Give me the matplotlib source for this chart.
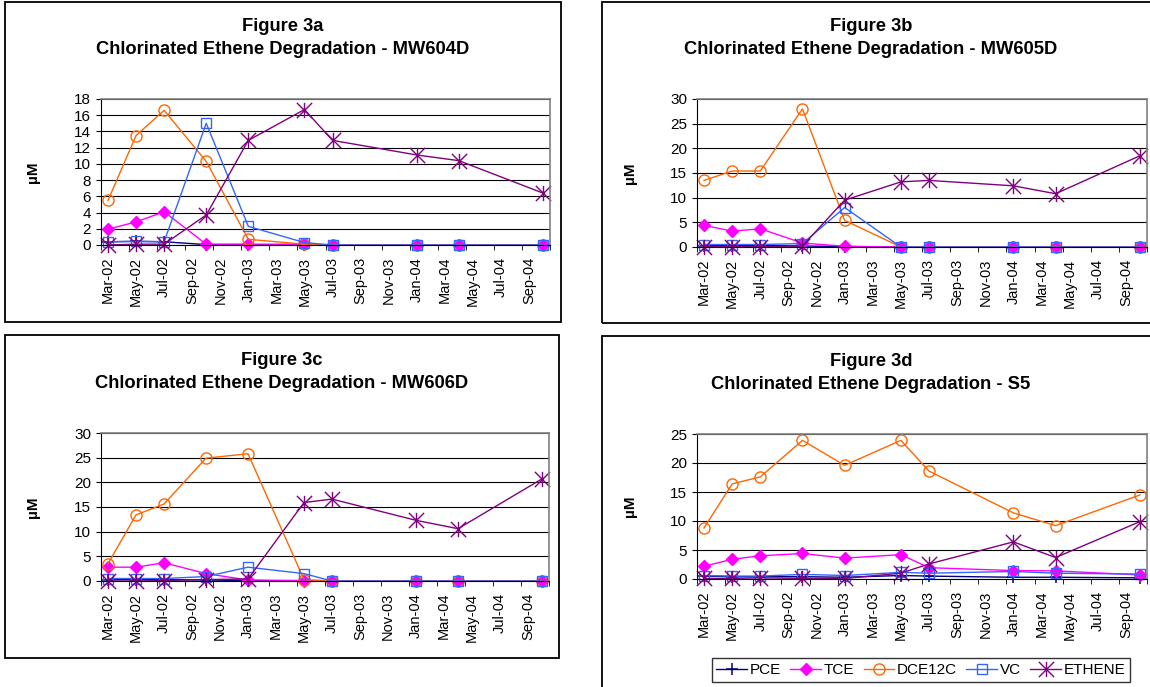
import matplotlib
matplotlib.use("Agg")
import matplotlib.pyplot as plt
import pandas as pd
from matplotlib.path import Path
from matplotlib.patches import Rectangle

plt.rcParams['font.family'] = ['Liberation Sans', 'DejaVu Sans']

# sampling dates and axis labels
sample_dates = ["Mar-02", "May-02", "Jul-02", "Oct-02", "Jan-03", "May-03",
                "Jul-03", "Jan-04", "Apr-04", "Oct-04"]
tick_labels = ["Mar-02", "May-02", "Jul-02", "Sep-02", "Nov-02", "Jan-03",
               "Mar-03", "May-03", "Jul-03", "Sep-03", "Nov-03", "Jan-04",
               "Mar-04", "May-04", "Jul-04", "Sep-04"]
series_names = ["PCE", "TCE", "DCE12C", "VC", "ETHENE"]

# Figure 3a - MW604D
a_pce = [0.4, 0.45, 0.4, 0.05, 0.05, 0, 0, 0, 0, 0]
a_tce = [1.95, 2.85, 4.1, 0.1, 0.1, 0.1, 0, 0, 0, 0]
a_dce = [5.5, 13.5, 16.6, 10.3, 0.7, 0.1, 0, 0, 0, 0]
a_vc = [0.4, 0.45, 0.4, 15.0, 2.3, 0.3, 0, 0, 0, 0]
a_eth = [0.0, 0.1, 0.1, 3.7, 12.9, 16.7, 12.9, 11.1, 10.4, 6.4]

# Figure 3b - MW605D
b_pce = [0.3, 0.3, 0.3, 0.2, 0.1, 0, 0, 0, 0, 0]
b_tce = [4.4, 3.2, 3.7, 0.8, 0.15, 0, 0, 0, 0, 0]
b_dce = [13.5, 15.4, 15.4, 28.0, 5.4, 0, 0, 0, 0, 0]
b_vc = [0.5, 0.5, 0.5, 0.7, 8.0, 0, 0, 0, 0, 0]
b_eth = [0.1, 0.1, 0.1, 0.2, 9.5, 13.2, 13.5, 12.4, 10.8, 18.5]

# Figure 3c - MW606D
c_pce = [0.3, 0.3, 0.3, 0.2, 0.1, 0, 0, 0, 0, 0]
c_tce = [2.8, 2.8, 3.7, 1.5, 0.2, 0.1, 0, 0, 0, 0]
c_dce = [3.5, 13.4, 15.6, 24.9, 25.8, 0.3, 0, 0, 0, 0]
c_vc = [0.5, 0.5, 0.5, 0.9, 2.8, 1.5, 0, 0, 0, 0]
c_eth = [0.0, 0.0, 0.1, 0.3, 0.4, 15.9, 16.6, 12.3, 10.6, 20.7]

# Figure 3d - S5
d_pce = [0.5, 0.4, 0.4, 0.4, 0.3, 0.6, 0.5, 0.3, 0.3, 0.2]
d_tce = [2.2, 3.4, 4.0, 4.4, 3.6, 4.2, 1.95, 1.45, 1.4, 0.7]
d_dce = [8.8, 16.4, 17.6, 23.9, 19.6, 23.9, 18.6, 11.4, 9.2, 14.5]
d_vc = [0.6, 0.5, 0.5, 0.8, 0.6, 1.15, 1.0, 1.3, 1.0, 0.85]
d_eth = [0.1, 0.1, 0.2, 0.1, 0.1, 1.0, 2.6, 6.4, 3.7, 9.9]

# month index counted from Mar-02
d = pd.to_datetime(sample_dates, format="%b-%y")
x = [(t.year - 2002) * 12 + t.month - 3 for t in d]

star = Path([(0, -1), (0, 1), (-1, -1), (1, 1), (-1, 1), (1, -1)],
            [Path.MOVETO, Path.LINETO] * 3)
styles = {
    "PCE": dict(color="#000080", marker="+", ms=9, mew=1.1),
    "TCE": dict(color="#FF00FF", marker="D", ms=6.5, mfc="#FF00FF", mew=1),
    "DCE12C": dict(color="#FF6600", marker="o", ms=8, mfc="none", mew=1),
    "VC": dict(color="#3366FF", marker="s", ms=7, mfc="none", mew=1),
    "ETHENE": dict(color="#800080", marker=star, ms=11, mew=1),
}

W, H = 1150, 687
fig = plt.figure(figsize=(W / 100, H / 100), dpi=100)


def panel(box, rect, title, ylim, ystep, data, title_y, ylab_x):
    bx0, by0, bx1, by1 = box
    fig.patches.append(Rectangle((bx0 / W, 1 - by1 / H), (bx1 - bx0) / W, (by1 - by0) / H,
                                 transform=fig.transFigure, fill=False,
                                 edgecolor="black", lw=1.3))
    l, t, r, b = rect
    ax = fig.add_axes([l / W, 1 - b / H, (r - l) / W, (b - t) / H])
    for name, vals in zip(series_names, data):
        ax.plot(x, vals, lw=1, label=name, clip_on=False, **styles[name])
    ax.set_xlim(-0.5, 31.5)
    ax.set_ylim(*ylim)
    ax.set_yticks(range(ylim[0], ylim[1] + 1, ystep))
    ax.set_xticks(range(0, 31, 2))
    ax.set_xticklabels(tick_labels, rotation=90, fontsize=10.5)
    ax.set_xticks([k - 0.5 for k in range(0, 33, 2)], minor=True)
    ax.tick_params(axis="x", which="major", length=0, pad=8.5)
    ax.tick_params(axis="x", which="minor", length=3.6, direction="out", color="black")
    ax.tick_params(axis="y", length=3.6, direction="out", labelsize=11, pad=3.5)
    ax.grid(axis="y", color="black", lw=0.8)
    ax.set_axisbelow(True)
    for s in ["top", "right"]:
        ax.spines[s].set_color("#808080")
        ax.spines[s].set_linewidth(1.2)
    for s in ["left", "bottom"]:
        ax.spines[s].set_color("black")
    cx = (bx0 + min(bx1, 1140)) / 2
    fig.text(cx / W, 1 - title_y / H, title, ha="center", va="center",
             fontsize=13.2, fontweight="bold", linespacing=1.45)
    fig.text(ylab_x / W, 1 - (t + b) / 2 / H, "µM", rotation=90, ha="center",
             va="center", fontsize=11, fontweight="bold")
    return ax


panel((5, 2, 561, 322), (101, 99, 550, 245),
      "Figure 3a\nChlorinated Ethene Degradation - MW604D", (0, 18), 2,
      [a_pce, a_tce, a_dce, a_vc, a_eth], 38, 33)
panel((602, 2, 1180, 323), (697, 99, 1147, 247),
      "Figure 3b\nChlorinated Ethene Degradation - MW605D", (0, 30), 5,
      [b_pce, b_tce, b_dce, b_vc, b_eth], 38, 630)
panel((5, 335, 559, 658), (101, 433, 549, 581),
      "Figure 3c\nChlorinated Ethene Degradation - MW606D", (0, 30), 5,
      [c_pce, c_tce, c_dce, c_vc, c_eth], 372, 33)
ax_d = panel((602, 336, 1180, 700), (697, 434, 1147, 579),
             "Figure 3d\nChlorinated Ethene Degradation - S5", (0, 25), 5,
             [d_pce, d_tce, d_dce, d_vc, d_eth], 373, 630)

handles, labels = ax_d.get_legend_handles_labels()
leg = fig.legend(handles, labels, loc="center", bbox_to_anchor=(921 / W, 1 - 670 / H),
                 ncol=5, fontsize=11, frameon=True, fancybox=False,
                 edgecolor="black", handlelength=2.0, handletextpad=0.2,
                 columnspacing=0.6, borderpad=0.3)
leg.get_frame().set_linewidth(1.0)

fig.savefig("out.png", dpi=100, facecolor="white")
